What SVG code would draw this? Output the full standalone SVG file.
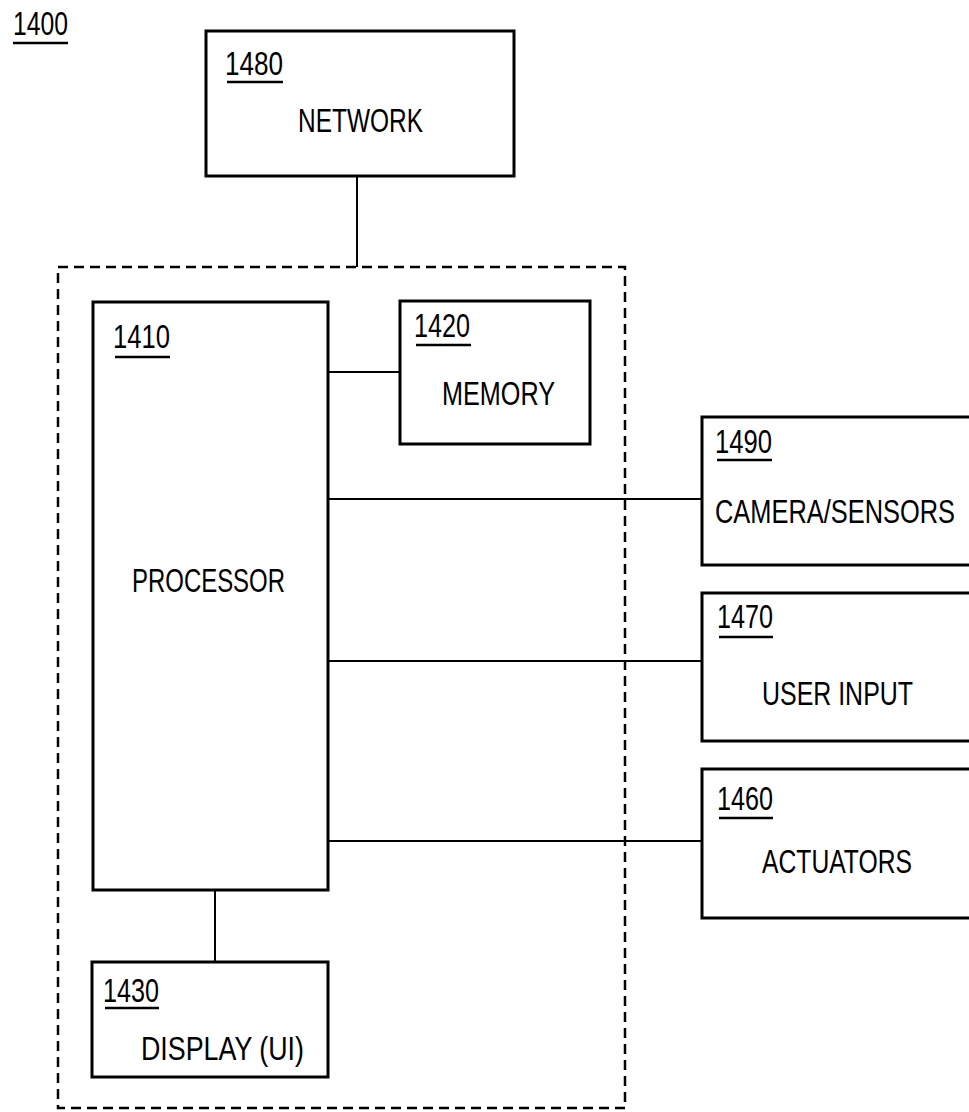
<svg xmlns="http://www.w3.org/2000/svg" width="969" height="1112" viewBox="0 0 969 1112">
<style>
.box{fill:#fff;stroke:#000;stroke-width:3}
.dash{fill:none;stroke:#000;stroke-width:2.5;stroke-dasharray:10 6}
.ln{stroke:#000;stroke-width:2;fill:none}
.ul{stroke:#000;stroke-width:2.5}
text{font-family:"Liberation Sans",Arial,sans-serif;font-size:33px;fill:#000}
</style>
<rect width="969" height="1112" fill="#fff"/>
<g id="label-1400">
<text x="13" y="35" textLength="55" lengthAdjust="spacingAndGlyphs">1400</text>
<line class="ul" x1="13" y1="43" x2="68" y2="43"/>
</g>
<g id="system-1400">
<rect class="dash" x="58" y="267" width="567" height="841"/>
</g>
<g id="connectors">
<line class="ln" x1="357" y1="176" x2="357" y2="267"/>
<line class="ln" x1="328" y1="372" x2="400" y2="372"/>
<line class="ln" x1="328" y1="499" x2="702" y2="499"/>
<line class="ln" x1="328" y1="661" x2="702" y2="661"/>
<line class="ln" x1="328" y1="841" x2="702" y2="841"/>
<line class="ln" x1="215" y1="890" x2="215" y2="962"/>
</g>
<g id="network-1480">
<rect class="box" x="206" y="31" width="308" height="145"/>
<text x="225" y="75" textLength="58" lengthAdjust="spacingAndGlyphs">1480</text>
<line class="ul" x1="227" y1="82" x2="283" y2="82"/>
<text x="298" y="132" textLength="125" lengthAdjust="spacingAndGlyphs">NETWORK</text>
</g>
<g id="processor-1410">
<rect class="box" x="93" y="302" width="235" height="588"/>
<text x="113" y="348" textLength="57" lengthAdjust="spacingAndGlyphs">1410</text>
<line class="ul" x1="115" y1="357" x2="170" y2="357"/>
<text x="132" y="592" textLength="153" lengthAdjust="spacingAndGlyphs">PROCESSOR</text>
</g>
<g id="memory-1420">
<rect class="box" x="400" y="301" width="190" height="143"/>
<text x="414" y="337" textLength="56" lengthAdjust="spacingAndGlyphs">1420</text>
<line class="ul" x1="416" y1="345" x2="471" y2="345"/>
<text x="442" y="405" textLength="113" lengthAdjust="spacingAndGlyphs">MEMORY</text>
</g>
<g id="camera-1490">
<rect class="box" x="702" y="417" width="280" height="148"/>
<text x="715" y="453" textLength="57" lengthAdjust="spacingAndGlyphs">1490</text>
<line class="ul" x1="717" y1="460" x2="772" y2="460"/>
<text x="715" y="523" textLength="240" lengthAdjust="spacingAndGlyphs">CAMERA/SENSORS</text>
</g>
<g id="userinput-1470">
<rect class="box" x="702" y="593" width="280" height="148"/>
<text x="717" y="628" textLength="56" lengthAdjust="spacingAndGlyphs">1470</text>
<line class="ul" x1="719" y1="637" x2="773" y2="637"/>
<text x="762" y="705" textLength="151" lengthAdjust="spacingAndGlyphs">USER INPUT</text>
</g>
<g id="actuators-1460">
<rect class="box" x="702" y="769" width="280" height="149"/>
<text x="717" y="810" textLength="56" lengthAdjust="spacingAndGlyphs">1460</text>
<line class="ul" x1="719" y1="818" x2="773" y2="818"/>
<text x="762" y="873" textLength="150" lengthAdjust="spacingAndGlyphs">ACTUATORS</text>
</g>
<g id="display-1430">
<rect class="box" x="92" y="962" width="236" height="115"/>
<text x="103" y="1002" textLength="56" lengthAdjust="spacingAndGlyphs">1430</text>
<line class="ul" x1="105" y1="1008" x2="159" y2="1008"/>
<text x="141" y="1060" textLength="163" lengthAdjust="spacingAndGlyphs">DISPLAY (UI)</text>
</g>
</svg>
